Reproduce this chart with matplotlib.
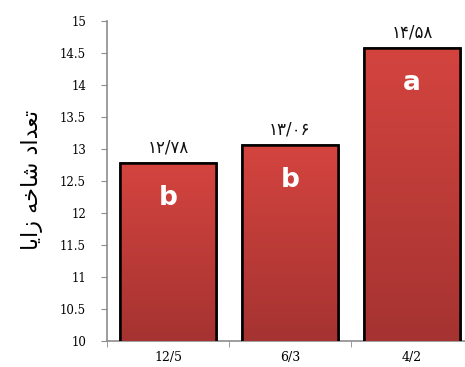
import matplotlib
matplotlib.use("Agg")
import matplotlib.pyplot as plt
import numpy as np
from matplotlib.colors import LinearSegmentedColormap

categories = ["12/5", "6/3", "4/2"]
values = [12.78, 13.06, 14.58]
value_labels = ["۱۲/۷۸", "۱۳/۰۶", "۱۴/۵۸"]
letters = ["b", "b", "a"]
yticks = [10, 10.5, 11, 11.5, 12, 12.5, 13, 13.5, 14, 14.5, 15]
ytick_labels = ["10", "10.5", "11", "11.5", "12", "12.5", "13", "13.5", "14", "14.5", "15"]

# y label "تعداد شاخه زایا" in shaped presentation forms, visual order
ylabel_logical = "\uFE97\uFECC\uFEAA\uFE8D\uFEA9 \uFEB7\uFE8E\uFEA7\uFEEA \uFEAF\uFE8D\uFEF3\uFE8E"
ylabel_visual = ylabel_logical[::-1]

fig = plt.figure(figsize=(4.65, 3.67), dpi=100)
ax = fig.add_axes([0.230, 0.0708, 0.787, 0.872])

x = np.arange(len(categories))
bars = ax.bar(x, values, width=0.79, bottom=0, color="#C83F3D",
              edgecolor="black", linewidth=1.8, zorder=3)

grad = np.linspace(0, 1, 256).reshape(-1, 1)
cmap = LinearSegmentedColormap.from_list("rg", ["#A53331", "#D4443F"])
for b in bars:
    x0 = b.get_x(); w = b.get_width(); h = b.get_height()
    im = ax.imshow(grad, extent=[x0, x0 + w, 10, h], origin="lower",
                   cmap=cmap, aspect="auto", zorder=3.5)
    im.set_clip_path(b)
for b in bars:
    ax.bar(b.get_x() + b.get_width() / 2, b.get_height(), width=b.get_width(),
           color="none", edgecolor="black", linewidth=1.8, zorder=4)

for xi, v, vl, lt in zip(x, values, value_labels, letters):
    ax.text(xi, v + 0.1, vl, ha="center", va="bottom", fontsize=12,
            family="DejaVu Sans", color="#111111", zorder=5)
    ax.text(xi, v - 0.55, lt, ha="center", va="center", fontsize=19,
            fontweight="bold", color="white", family="DejaVu Sans", zorder=5)

ax.set_xlim(-0.5, 2.5)
ax.set_ylim(10, 15)
ax.set_yticks(yticks)
ax.set_yticklabels(ytick_labels, family="DejaVu Serif", fontsize=8.5)
ax.set_xticks(x)
ax.set_xticklabels(categories, family="DejaVu Serif", fontsize=9)
ax.set_xticks([-0.5, 0.5, 1.5], minor=True)
ax.tick_params(axis="x", which="major", length=0, pad=7)
ax.tick_params(axis="x", which="minor", length=4, color="#8c8c8c", direction="out")
ax.tick_params(axis="y", length=4, color="#8c8c8c", direction="out", pad=11)
for s in ["top", "right"]:
    ax.spines[s].set_visible(False)
for s in ["left", "bottom"]:
    ax.spines[s].set_color("#8c8c8c")
    ax.spines[s].set_linewidth(1.2)

fig.text(0.068, 0.51, ylabel_visual, rotation=90, ha="center", va="center",
         fontsize=16, family="DejaVu Sans")

fig.savefig("out.png", dpi=100)
